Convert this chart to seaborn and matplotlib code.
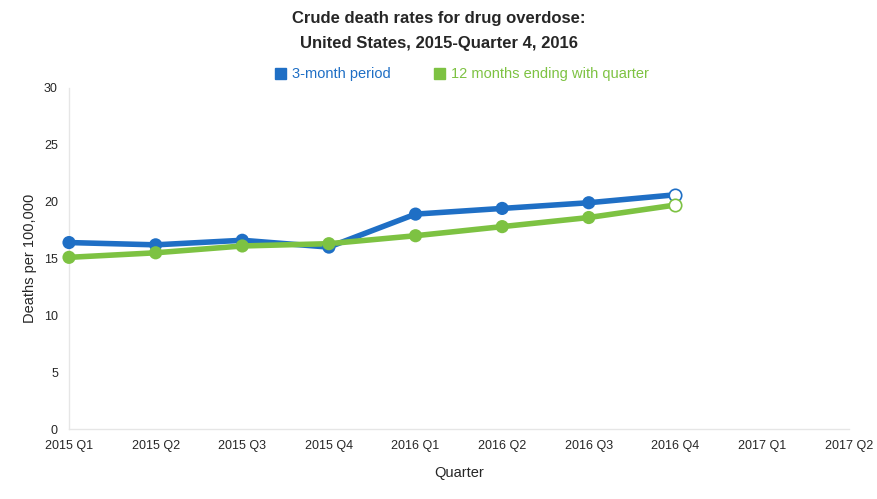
import pandas as pd
import matplotlib.pyplot as plt
import seaborn as sns

# data
quarters = ['2015 Q1', '2015 Q2', '2015 Q3', '2015 Q4', '2016 Q1',
            '2016 Q2', '2016 Q3', '2016 Q4', '2017 Q1', '2017 Q2']
three_month = [16.4, 16.2, 16.6, 16.0, 18.9, 19.4, 19.9, 20.6]
twelve_month = [15.1, 15.5, 16.1, 16.3, 17.0, 17.8, 18.6, 19.7]

blue = '#1f6fc5'
green = '#7dc242'

rows = []
for i, v in enumerate(three_month):
    rows.append({'pos': i, 'rate': v, 'serie': '3-month period'})
for i, v in enumerate(twelve_month):
    rows.append({'pos': i, 'rate': v, 'serie': '12 months ending with quarter'})
df = pd.DataFrame(rows)

sns.set_style('white')
plt.rcParams['font.family'] = ['Liberation Sans', 'DejaVu Sans']

fig = plt.figure(figsize=(8.78, 4.99), dpi=100)
ax = fig.add_axes([0.0786, 0.140, 0.888, 0.684])

pal = {'3-month period': blue, '12 months ending with quarter': green}
sns.lineplot(data=df, x='pos', y='rate', hue='serie', palette=pal,
             linewidth=4, legend=False, ax=ax, clip_on=False)

# titik penuh kecuali kuartal terakhir
akhir = len(three_month) - 1
penuh = df[df['pos'] < akhir]
terbuka = df[df['pos'] == akhir]
sns.scatterplot(data=penuh, x='pos', y='rate', hue='serie', palette=pal,
                s=90, edgecolor='none', legend=False, ax=ax, zorder=3,
                clip_on=False)
for nama, warna in pal.items():
    t = terbuka[terbuka['serie'] == nama]
    ax.scatter(t['pos'], t['rate'], s=80, facecolor='white', edgecolor=warna,
               linewidth=1.2, zorder=4, clip_on=False)

ax.set_xlim(0, len(quarters) - 1)
ax.set_ylim(0, 30)
ax.set_xticks(range(len(quarters)))
ax.set_xticklabels(quarters, fontsize=9)
ax.set_yticks(range(0, 31, 5))
ax.tick_params(axis='y', labelsize=9, length=0, pad=8)
ax.tick_params(axis='x', length=5, color='#e0e0e0', pad=3)
ax.set_xlabel('Quarter', fontsize=10.5, labelpad=10)
ax.set_ylabel('Deaths per 100,000', fontsize=10.5, labelpad=5)

for s in ['top', 'right']:
    ax.spines[s].set_visible(False)
for s in ['left', 'bottom']:
    ax.spines[s].set_color('#e6e6e6')
    ax.spines[s].set_linewidth(1)

fig.text(0.5, 0.962, 'Crude death rates for drug overdose:', ha='center',
         va='center', fontsize=12, fontweight='bold')
fig.text(0.5, 0.912, 'United States, 2015-Quarter 4, 2016', ha='center',
         va='center', fontsize=12, fontweight='bold')

# legenda manual
fig.patches.append(plt.Rectangle((0.313, 0.842), 0.013, 0.022,
                                 transform=fig.transFigure, color=blue))
fig.text(0.333, 0.852, '3-month period', color=blue, fontsize=10.5, va='center')
fig.patches.append(plt.Rectangle((0.494, 0.842), 0.013, 0.022,
                                 transform=fig.transFigure, color=green))
fig.text(0.514, 0.852, '12 months ending with quarter', color=green,
         fontsize=10.5, va='center')

plt.savefig('out.png', dpi=100)
